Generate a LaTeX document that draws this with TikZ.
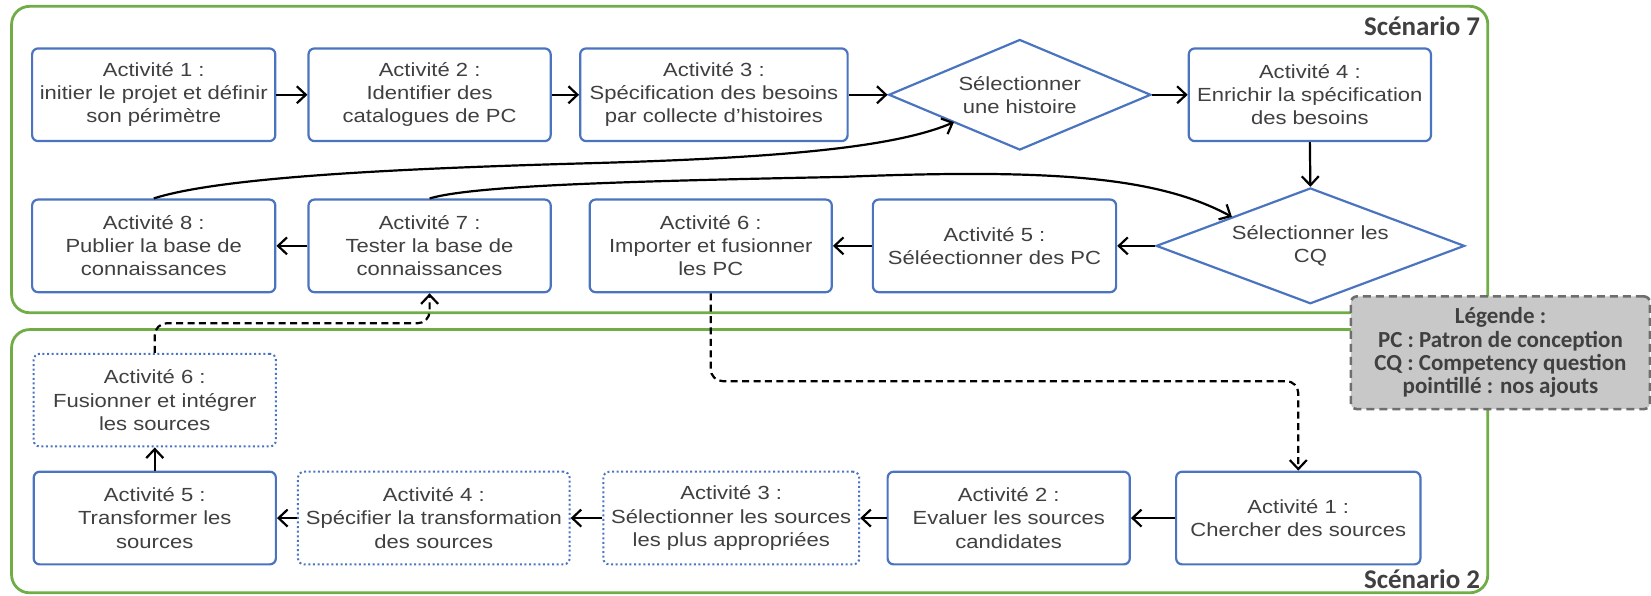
\documentclass[tikz,border=0pt]{standalone}
\usepackage{fontspec}
\setmainfont{Liberation Sans}[FakeStretch=1.16]
\newfontfamily\labfont{Carlito}
\usetikzlibrary{arrows.meta,shapes.geometric}
\definecolor{boxblue}{HTML}{4A74C0}
\definecolor{frgreen}{HTML}{70AD47}
\definecolor{txt}{HTML}{404040}
\definecolor{legfill}{HTML}{C8C8C8}
\definecolor{legline}{HTML}{6E6E6E}
\begin{document}
\begin{tikzpicture}[x=0.5265pt,y=-0.5265pt,
  act/.style={draw=boxblue, line width=1.1pt, rounded corners=3pt, fill=white,
    align=center, text=txt, font=\fontsize{9.5}{11.6}\selectfont, inner sep=0pt,
    minimum height=88*0.5265pt},
  wd/.style={minimum width=#1*0.5265pt},
  addbox/.style={act, dash pattern=on 1pt off 1.3pt, line width=1pt},
  dec/.style={diamond, draw=boxblue, line width=1.1pt, fill=white, align=center,
    text=txt, font=\fontsize{9.5}{11.6}\selectfont, inner sep=0pt, aspect=2.4},
  conn/.style={line width=1.1pt, -{Straight Barb[length=4.5pt,width=8.5pt]}},
  dconn/.style={conn, dash pattern=on 3.5pt off 2.2pt, rounded corners=6pt},
  frame/.style={draw=frgreen, line width=1.4pt, rounded corners=9pt},
  lab/.style={anchor=east, inner sep=0pt, text=txt, font=\labfont\bfseries\fontsize{13.5}{14}\selectfont}
]
\useasboundingbox (0,0) rectangle (1568,566);
% frames
\draw[frame] (11,6) rectangle (1413,297);
\draw[frame] (11,313) rectangle (1413,563);
\node[lab] (S7) at (1406,25) {Scénario 7};
\node[lab] (S2) at (1406,550) {Scénario 2};

% scenario 7
\node[act, wd=231] (T1) at (146,90) {Activité 1 :\\initier le projet et définir\\son périmètre};
\node[act, wd=230] (T2) at (408,90) {Activité 2 :\\Identifier des\\catalogues de PC};
\node[act, wd=254] (T3) at (678,90) {Activité 3 :\\Spécification des besoins\\par collecte d'histoires};
\node[dec, minimum width=249*0.5265pt, minimum height=105*0.5265pt] (D1) at (968.5,90) {Sélectionner\\une histoire};
\node[act, wd=230] (T4) at (1244,90) {Activité 4 :\\Enrichir la spécification\\des besoins};
\node[dec, minimum width=293*0.5265pt, minimum height=110*0.5265pt] (D2) at (1244.5,233.5) {Sélectionner les\\CQ};
\node[act, wd=231] (T5) at (944.5,233.5) {Activité 5 :\\Séléectionner des PC};
\node[act, wd=230] (T6) at (675,233.5) {Activité 6 :\\Importer et fusionner\\les PC};
\node[act, wd=230] (T7) at (408,233.5) {Activité 7 :\\Tester la base de\\connaissances};
\node[act, wd=231] (T8) at (146,233.5) {Activité 8 :\\Publier la base de\\connaissances};

% scenario 2
\node[addbox, wd=230] (B6) at (147,380) {Activité 6 :\\Fusionner et intégrer\\les sources};
\node[act, wd=230] (B5) at (147,492) {Activité 5 :\\Transformer les\\sources};
\node[addbox, wd=258] (B4) at (412,492) {Activité 4 :\\Spécifier la transformation\\des sources};
\node[addbox, wd=243] (B3) at (694.5,492) {Activité 3 :\\Sélectionner les sources\\les plus appropriées};
\node[act, wd=230] (B2) at (958,492) {Activité 2 :\\Evaluer les sources\\candidates};
\node[act, wd=232] (B1) at (1233,492) {Activité 1 :\\Chercher des sources};

% connectors scenario 7
\draw[conn] (T1.east) -- (T2.west);
\draw[conn] (T2.east) -- (T3.west);
\draw[conn] (T3.east) -- (D1.west);
\draw[conn] (D1.east) -- (T4.west);
\draw[conn] (T4.south) -- (D2.north);
\draw[conn] (D2.west) -- (T5.east);
\draw[conn] (T5.west) -- (T6.east);
\draw[conn] (T7.west) -- (T8.east);
\coordinate (e1) at (906,116);
\draw[conn] (T8.north) .. controls (210,168) and (380,160) .. (560,155)
  .. controls (740,150) and (850,140) .. (e1);
\coordinate (e2) at (1170,206);
\draw[conn] (T7.north) .. controls (450,176) and (600,172) .. (800,168)
  .. controls (1000,160) and (1100,168) .. (e2);

% connectors scenario 2
\draw[conn] (B1.west) -- (B2.east);
\draw[conn] (B2.west) -- (B3.east);
\draw[conn] (B3.west) -- (B4.east);
\draw[conn] (B4.west) -- (B5.east);
\draw[conn] (B5.north) -- (B6.south);

% dashed links
\coordinate (k1) at (675,362);
\draw[dconn] (T6.south) -- (k1) -| (B1.north);
\coordinate (k2) at (147,307);
\draw[dconn] (B6.north) -- (k2) -| (T7.south);

% legend
\node[draw=legline, fill=legfill, line width=1.3pt, dash pattern=on 4pt off 2.5pt,
  rounded corners=3pt, minimum width=284*0.5265pt, minimum height=107*0.5265pt,
  align=center, inner sep=0pt, text=txt,
  font=\labfont\bfseries\fontsize{11.5}{11.7}\selectfont] (L) at (1425,335)
  {Légende :\\PC : Patron de conception\\CQ : Competency question\\pointillé : nos ajouts};
\end{tikzpicture}
\end{document}
